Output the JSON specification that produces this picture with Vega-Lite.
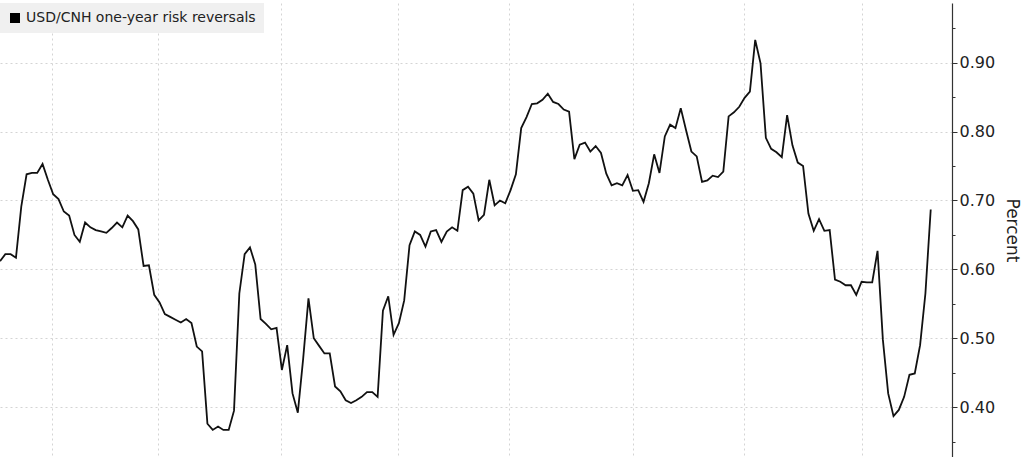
{
  "$schema": "https://vega.github.io/schema/vega-lite/v6.json",
  "width": 952,
  "height": 454,
  "autosize": {"type": "none"},
  "padding": {"left": 0, "top": 3, "right": 72, "bottom": 0},
  "background": "#ffffff",
  "config": {
    "view": {"stroke": null},
    "font": "DejaVu Sans"
  },
  "data": {
    "values": [
      {"day": 0, "rr": 0.612}, {"day": 1, "rr": 0.622}, {"day": 2, "rr": 0.622}, {"day": 3, "rr": 0.617},
      {"day": 4, "rr": 0.691}, {"day": 5, "rr": 0.738}, {"day": 6, "rr": 0.740}, {"day": 7, "rr": 0.740},
      {"day": 8, "rr": 0.753}, {"day": 9, "rr": 0.730}, {"day": 10, "rr": 0.709}, {"day": 11, "rr": 0.702},
      {"day": 12, "rr": 0.684}, {"day": 13, "rr": 0.678}, {"day": 14, "rr": 0.650}, {"day": 15, "rr": 0.640},
      {"day": 16, "rr": 0.668}, {"day": 17, "rr": 0.661}, {"day": 18, "rr": 0.657}, {"day": 19, "rr": 0.655},
      {"day": 20, "rr": 0.653}, {"day": 21, "rr": 0.660}, {"day": 22, "rr": 0.668}, {"day": 23, "rr": 0.661},
      {"day": 24, "rr": 0.678}, {"day": 25, "rr": 0.670}, {"day": 26, "rr": 0.658}, {"day": 27, "rr": 0.605},
      {"day": 28, "rr": 0.606}, {"day": 29, "rr": 0.563}, {"day": 30, "rr": 0.552}, {"day": 31, "rr": 0.535},
      {"day": 32, "rr": 0.531}, {"day": 33, "rr": 0.527}, {"day": 34, "rr": 0.523}, {"day": 35, "rr": 0.528},
      {"day": 36, "rr": 0.522}, {"day": 37, "rr": 0.488}, {"day": 38, "rr": 0.481}, {"day": 39, "rr": 0.376},
      {"day": 40, "rr": 0.367}, {"day": 41, "rr": 0.372}, {"day": 42, "rr": 0.367}, {"day": 43, "rr": 0.367},
      {"day": 44, "rr": 0.395}, {"day": 45, "rr": 0.565}, {"day": 46, "rr": 0.622}, {"day": 47, "rr": 0.632},
      {"day": 48, "rr": 0.607}, {"day": 49, "rr": 0.528}, {"day": 50, "rr": 0.521}, {"day": 51, "rr": 0.513},
      {"day": 52, "rr": 0.515}, {"day": 53, "rr": 0.454}, {"day": 54, "rr": 0.490}, {"day": 55, "rr": 0.420},
      {"day": 56, "rr": 0.392}, {"day": 57, "rr": 0.470}, {"day": 58, "rr": 0.558}, {"day": 59, "rr": 0.500},
      {"day": 60, "rr": 0.489}, {"day": 61, "rr": 0.478}, {"day": 62, "rr": 0.478}, {"day": 63, "rr": 0.430},
      {"day": 64, "rr": 0.423}, {"day": 65, "rr": 0.410}, {"day": 66, "rr": 0.406}, {"day": 67, "rr": 0.410},
      {"day": 68, "rr": 0.415}, {"day": 69, "rr": 0.422}, {"day": 70, "rr": 0.422}, {"day": 71, "rr": 0.415},
      {"day": 72, "rr": 0.540}, {"day": 73, "rr": 0.561}, {"day": 74, "rr": 0.505}, {"day": 75, "rr": 0.522},
      {"day": 76, "rr": 0.555}, {"day": 77, "rr": 0.635}, {"day": 78, "rr": 0.655}, {"day": 79, "rr": 0.650},
      {"day": 80, "rr": 0.633}, {"day": 81, "rr": 0.655}, {"day": 82, "rr": 0.657}, {"day": 83, "rr": 0.640},
      {"day": 84, "rr": 0.655}, {"day": 85, "rr": 0.661}, {"day": 86, "rr": 0.656}, {"day": 87, "rr": 0.715},
      {"day": 88, "rr": 0.720}, {"day": 89, "rr": 0.710}, {"day": 90, "rr": 0.671}, {"day": 91, "rr": 0.679},
      {"day": 92, "rr": 0.730}, {"day": 93, "rr": 0.693}, {"day": 94, "rr": 0.700}, {"day": 95, "rr": 0.696},
      {"day": 96, "rr": 0.715}, {"day": 97, "rr": 0.738}, {"day": 98, "rr": 0.805}, {"day": 99, "rr": 0.821},
      {"day": 100, "rr": 0.840}, {"day": 101, "rr": 0.841}, {"day": 102, "rr": 0.846}, {"day": 103, "rr": 0.855},
      {"day": 104, "rr": 0.843}, {"day": 105, "rr": 0.840}, {"day": 106, "rr": 0.832}, {"day": 107, "rr": 0.829},
      {"day": 108, "rr": 0.760}, {"day": 109, "rr": 0.781}, {"day": 110, "rr": 0.784}, {"day": 111, "rr": 0.771},
      {"day": 112, "rr": 0.779}, {"day": 113, "rr": 0.769}, {"day": 114, "rr": 0.739}, {"day": 115, "rr": 0.722},
      {"day": 116, "rr": 0.725}, {"day": 117, "rr": 0.722}, {"day": 118, "rr": 0.737}, {"day": 119, "rr": 0.714},
      {"day": 120, "rr": 0.715}, {"day": 121, "rr": 0.698}, {"day": 122, "rr": 0.725}, {"day": 123, "rr": 0.767},
      {"day": 124, "rr": 0.740}, {"day": 125, "rr": 0.793}, {"day": 126, "rr": 0.810}, {"day": 127, "rr": 0.805},
      {"day": 128, "rr": 0.834}, {"day": 129, "rr": 0.802}, {"day": 130, "rr": 0.771}, {"day": 131, "rr": 0.764},
      {"day": 132, "rr": 0.727}, {"day": 133, "rr": 0.729}, {"day": 134, "rr": 0.736}, {"day": 135, "rr": 0.734},
      {"day": 136, "rr": 0.742}, {"day": 137, "rr": 0.822}, {"day": 138, "rr": 0.828}, {"day": 139, "rr": 0.836},
      {"day": 140, "rr": 0.849}, {"day": 141, "rr": 0.858}, {"day": 142, "rr": 0.933}, {"day": 143, "rr": 0.899},
      {"day": 144, "rr": 0.791}, {"day": 145, "rr": 0.775}, {"day": 146, "rr": 0.770}, {"day": 147, "rr": 0.763},
      {"day": 148, "rr": 0.824}, {"day": 149, "rr": 0.780}, {"day": 150, "rr": 0.755}, {"day": 151, "rr": 0.750},
      {"day": 152, "rr": 0.681}, {"day": 153, "rr": 0.656}, {"day": 154, "rr": 0.673}, {"day": 155, "rr": 0.656},
      {"day": 156, "rr": 0.657}, {"day": 157, "rr": 0.585}, {"day": 158, "rr": 0.582}, {"day": 159, "rr": 0.577},
      {"day": 160, "rr": 0.577}, {"day": 161, "rr": 0.563}, {"day": 162, "rr": 0.582}, {"day": 163, "rr": 0.581},
      {"day": 164, "rr": 0.581}, {"day": 165, "rr": 0.627}, {"day": 166, "rr": 0.498}, {"day": 167, "rr": 0.420},
      {"day": 168, "rr": 0.387}, {"day": 169, "rr": 0.396}, {"day": 170, "rr": 0.415}, {"day": 171, "rr": 0.447},
      {"day": 172, "rr": 0.449}, {"day": 173, "rr": 0.490}, {"day": 174, "rr": 0.565}, {"day": 175, "rr": 0.687}
    ]
  },
  "mark": {"type": "line", "strokeWidth": 1.8, "interpolate": "linear"},
  "encoding": {
    "x": {
      "field": "day",
      "type": "quantitative",
      "scale": {"domain": [0, 179], "nice": false, "zero": false},
      "axis": {
        "title": null,
        "labels": false,
        "ticks": false,
        "domain": false,
        "grid": true,
        "values": [9.8, 29.7, 52.8, 74.8, 95.7, 119, 139.8, 162],
        "gridColor": "#d4d4d4",
        "gridDash": [2, 3],
        "gridWidth": 1
      }
    },
    "y": {
      "field": "rr",
      "type": "quantitative",
      "scale": {"domain": [0.3277, 0.9866], "nice": false, "zero": false},
      "axis": {
        "orient": "right",
        "title": "Percent",
        "titleAngle": 90,
        "titleFontSize": 17,
        "titleFontWeight": "normal",
        "titleColor": "#222222",
        "titlePadding": 8,
        "titleFont": "DejaVu Sans",
        "values": [0.35, 0.4, 0.45, 0.5, 0.55, 0.6, 0.65, 0.7, 0.75, 0.8, 0.85, 0.9, 0.95],
        "labelExpr": "abs(datum.value*10 - round(datum.value*10)) < 0.001 ? format(datum.value, '.2f') : ''",
        "labelFontSize": 16,
        "labelColor": "#222222",
        "labelFont": "DejaVu Sans",
        "labelPadding": 2,
        "labelBound": false,
        "labelFlush": false,
        "labelOverlap": false,
        "tickColor": "#333333",
        "tickSize": {"condition": {"test": "abs(datum.value*10 - round(datum.value*10)) < 0.001", "value": 5}, "value": 3},
        "domainColor": "#333333",
        "domainWidth": 1.2,
        "grid": true,
        "gridColor": "#d4d4d4",
        "gridDash": [2, 3],
        "gridWidth": 1,
        "gridOpacity": {"condition": {"test": "abs(datum.value*10 - round(datum.value*10)) < 0.001 && datum.value > 0.37 && datum.value < 0.93", "value": 1}, "value": 0}
      }
    },
    "color": {
      "datum": "USD/CNH one-year risk reversals",
      "type": "nominal",
      "scale": {"range": ["#111111"]},
      "legend": {
        "title": null,
        "orient": "top-left",
        "offset": 0,
        "padding": 8,
        "fillColor": "#f0f0f0",
        "symbolType": "square",
        "symbolSize": 100,
        "symbolFillColor": "#000000",
        "symbolStrokeWidth": 0,
        "labelFontSize": 14,
        "labelLimit": 400,
        "labelFont": "DejaVu Sans",
        "labelColor": "#222222",
        "labelOffset": 4
      }
    }
  }
}
